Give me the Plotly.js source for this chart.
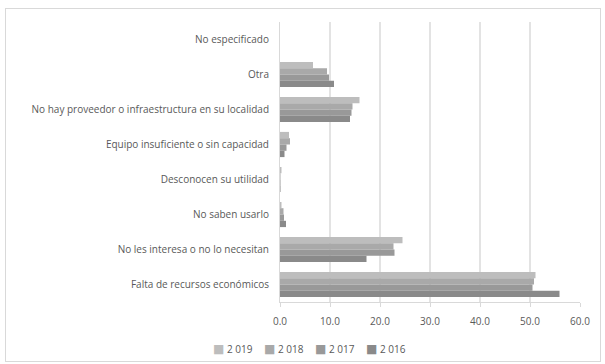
<!DOCTYPE html>
<html>
<head>
<meta charset="utf-8">
<script src="https://cdn.plot.ly/plotly-3.0.1.min.js"></script>
<style>
  html, body { margin: 0; padding: 0; background: #fff; }
  #chart { width: 605px; height: 364px; }
  #frame { position: absolute; left: 5px; top: 8px; width: 594px; height: 352px;
           border: 1px solid #d9d9d9; pointer-events: none; }
</style>
</head>
<body>
<div id="chart"></div>
<div id="frame"></div>
<script>
// Reasons for not having the service, by year (%)
const categories = [
  "No especificado",
  "Otra",
  "No hay proveedor o infraestructura en su localidad",
  "Equipo insuficiente o sin capacidad",
  "Desconocen su utilidad",
  "No saben usarlo",
  "No les interesa o no lo necesitan",
  "Falta de recursos económicos"
];
const yearLabels = ["2 019", "2 018", "2 017", "2 016"];
const values2019 = [0, 6.6, 15.9, 1.8, 0.3, 0.3, 24.5, 51.1];
const values2018 = [0, 9.4, 14.5, 2.0, 0.1, 0.7, 22.7, 50.8];
const values2017 = [0, 9.8, 14.3, 1.3, 0.1, 0.8, 22.9, 50.5];
const values2016 = [0, 10.8, 14.0, 0.9, 0.1, 1.2, 17.3, 55.9];
const barColors = ["#bdbdbd", "#a9a9a9", "#999999", "#8a8a8a"];

const series = [values2019, values2018, values2017, values2016];
const traces = series.map((vals, i) => ({
  type: "bar",
  orientation: "h",
  name: yearLabels[i],
  x: vals,
  y: categories,
  marker: { color: barColors[i] },
  showlegend: false,
  hoverinfo: "x+name"
}));

// Compact legend row under the axis: one coloured square + year per entry
const plotLeft = 280, plotWidth = 300, plotBottom = 302, plotHeight = 280;
const legendStart = 211, legendStride = 51, legendY = 349;
const legendAnnotations = yearLabels.map((label, i) => ({
  xref: "paper", yref: "paper",
  x: (legendStart + i * legendStride - plotLeft) / plotWidth,
  y: (plotBottom - legendY) / plotHeight,
  xanchor: "left", yanchor: "middle",
  showarrow: false,
  text: '<span style="color:' + barColors[i] + ';font-family:DejaVu Sans;font-size:12px">■</span> ' + label,
  font: { family: "Open Sans, sans-serif", size: 10, color: "#595959" }
}));

const layout = {
  width: 605, height: 364,
  margin: { l: plotLeft, r: 605 - plotLeft - plotWidth, t: 22, b: 364 - plotBottom },
  paper_bgcolor: "#ffffff",
  plot_bgcolor: "#ffffff",
  barmode: "group",
  bargap: 0.28,
  bargroupgap: 0,
  showlegend: false,
  font: { family: "Open Sans, sans-serif", size: 10, color: "#595959" },
  xaxis: {
    range: [0, 60],
    dtick: 10,
    tickformat: ".1f",
    showgrid: true,
    gridcolor: "#e3e3e3",
    gridwidth: 1.3,
    zeroline: false,
    showline: true,
    linecolor: "#d9d9d9",
    ticks: "outside",
    ticklen: 4,
    tickcolor: "#d9d9d9",
    ticklabelstandoff: 6,
    tickfont: { size: 10, color: "#595959" },
    fixedrange: true
  },
  yaxis: {
    autorange: "reversed",
    showgrid: false,
    zeroline: false,
    showline: true,
    linecolor: "#d9d9d9",
    ticks: "",
    ticklabelstandoff: 8,
    tickfont: { size: 10, color: "#595959" },
    fixedrange: true
  },
  annotations: legendAnnotations
};

Plotly.newPlot("chart", traces, layout, { displayModeBar: false, staticPlot: true });
</script>
</body>
</html>
